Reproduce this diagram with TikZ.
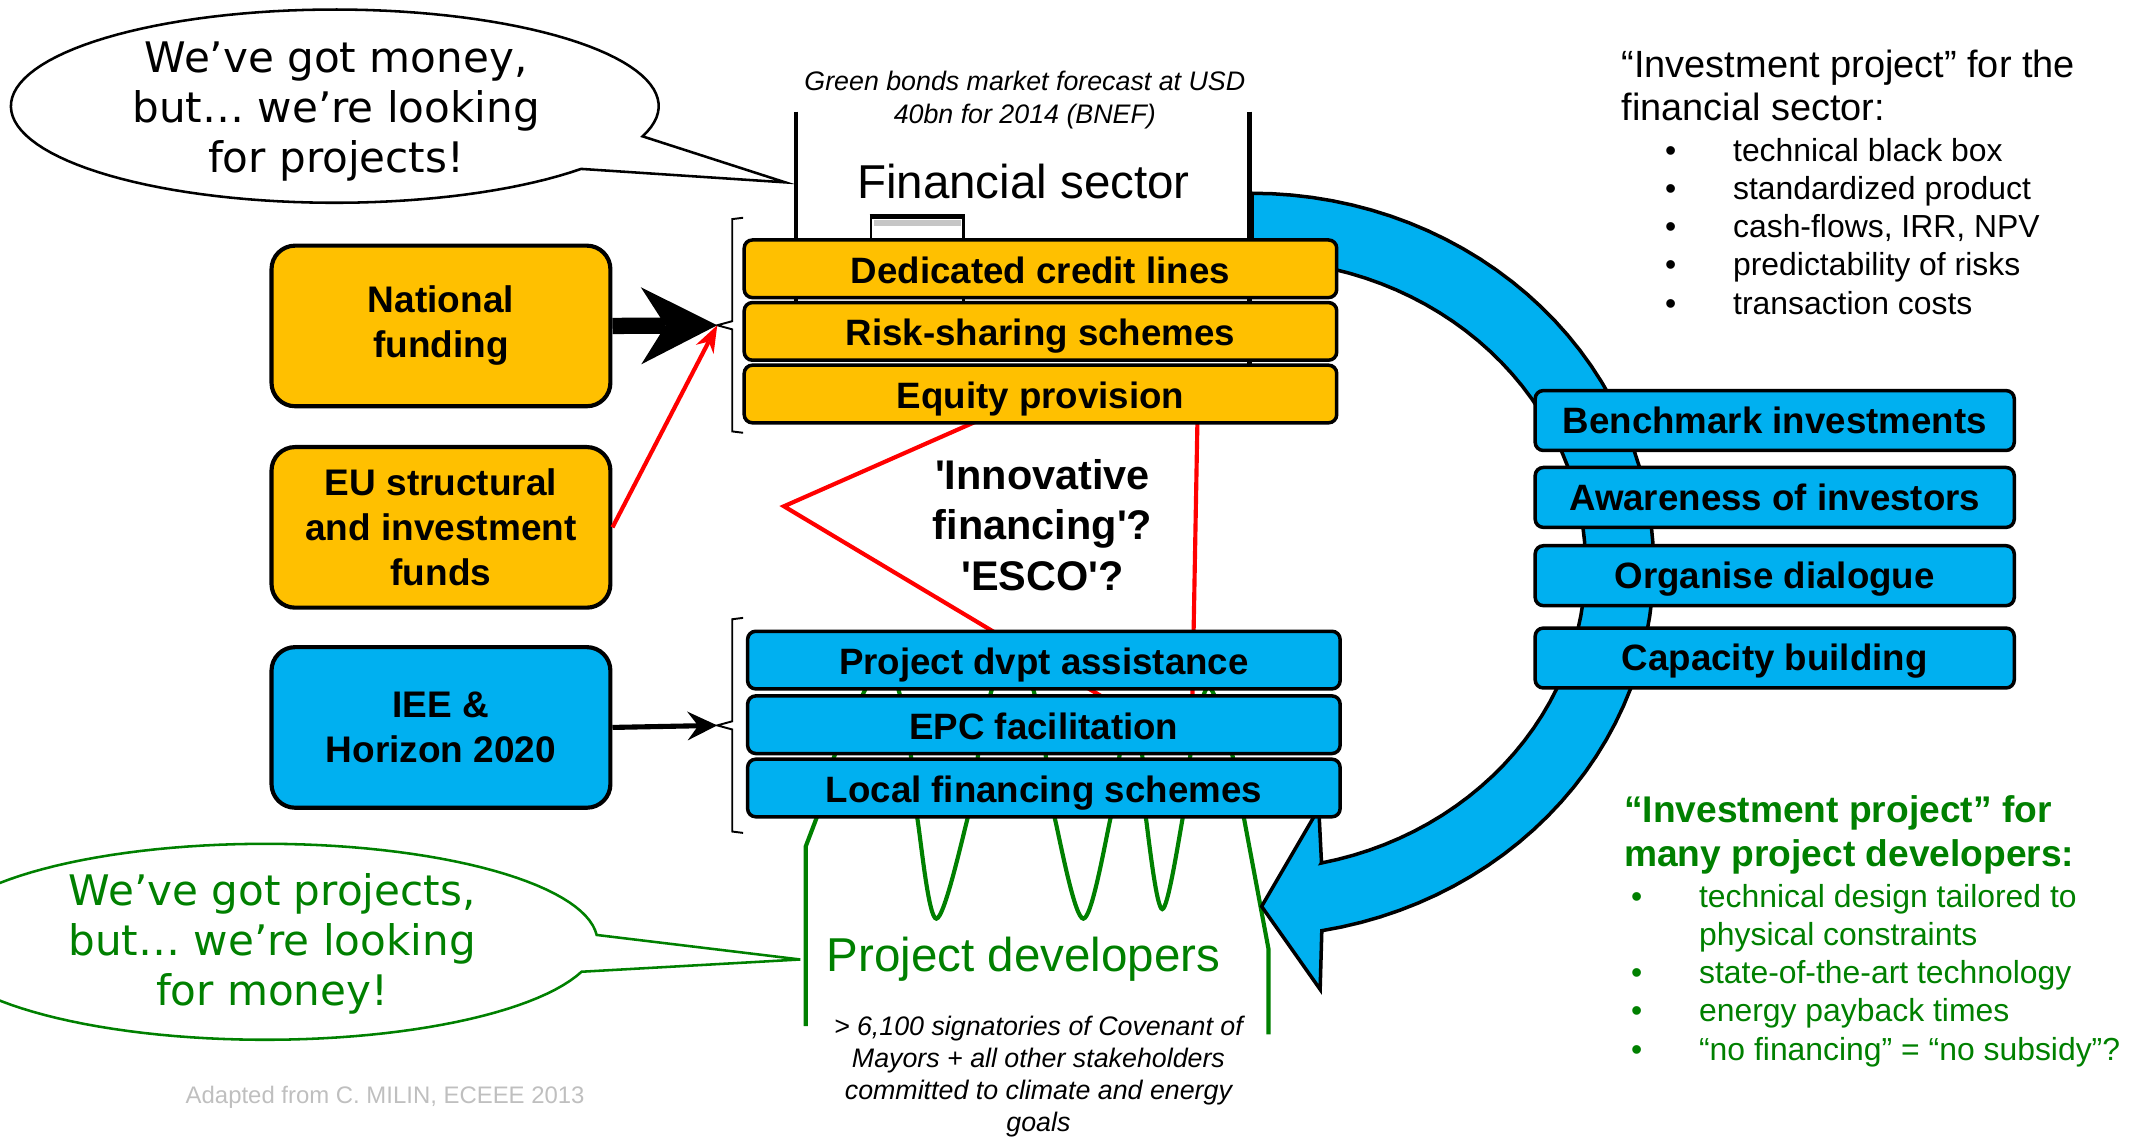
\documentclass[tikz,border=0pt]{standalone}
\usepackage{fontspec}
\setmainfont{Liberation Sans}
\newfontfamily\bubblefont{DejaVu Sans}
\usetikzlibrary{arrows.meta}
\definecolor{fundyellow}{HTML}{FFC000}
\definecolor{fundblue}{HTML}{00B0F0}
\definecolor{devgreen}{HTML}{008000}
\definecolor{notegray}{HTML}{BFBFBF}
\newcommand\listbullet{\makebox[7.5mm][l]{•}}

\begin{document}
\begin{tikzpicture}
[
    x=0.15mm, y=-0.15mm,
    fund/.style={draw, line width=1.3pt, rounded corners=2.6mm, minimum width=37.35mm, minimum height=17.7mm, inner sep=0pt, align=center, font=\bfseries\fontsize{11.6}{14.1}\selectfont},
    bar/.style={draw, line width=1.1pt, rounded corners=0.9mm, minimum width=65.3mm, minimum height=6.35mm, inner sep=0pt, text height=10.5pt, text depth=1.5pt, font=\bfseries\fontsize{11.5}{13}\selectfont},
    sidebar/.style={bar, fill=fundblue, minimum width=52.8mm, minimum height=6.6mm, text height=10pt, text depth=2pt},
    plain/.style={inner sep=0pt, align=left},
]
\useasboundingbox (0,0) rectangle (1568,835);

\draw[line width=1.4pt] (585,82) -- (585,230) (918,82) -- (918,270);
\draw[line width=0.9pt] (640,200) -- (640,159) -- (708,159) -- (708,230);
\draw[line width=1.6pt] (639,159) -- (709,159);
\fill[gray!45] (642,162) rectangle (706,166);

\draw[red, line width=1.3pt] (737,301) -- (576,372) -- (820,518);
\draw[red, line width=1.3pt] (880,300) -- (876,520);

\draw[devgreen, line width=1.3pt] (592,754) -- (592,622) -- (600,601)
    -- plot[smooth, tension=0.55] coordinates {(600,601) (614,553) (636,506) (648,478) (660,506) (669,553) (674,601) (688,675) (711,601) (719,553) (729,506) (744,478) (759,506) (768,553) (775,601) (796,675) (816,601) (823,553) (831,528) (839,553) (842,601) (854,668) (869,601) (875,553) (888,505) (905,553) (914,601)}
    -- (932,697) -- (932,760);

\filldraw[fill=fundblue, draw=black, line width=1.1pt]
    plot[domain=-90:80, samples=60] ({920+295*cos(\x)}, {415+273*sin(\x)})
    -- (970,727) -- (927,666) -- (969,594) -- (971,634)
    -- plot[domain=78:-90, samples=60] ({920+245*cos(\x)}, {415+224*sin(\x)}) -- cycle;

\filldraw[fill=white, line width=0.8pt]
    plot[domain=40.5:378.2, samples=120] ({246+238*cos(\x)}, {78+71*sin(\x)}) -- (577,134) -- cycle;
\filldraw[fill=white, draw=devgreen, line width=0.8pt]
    plot[domain=17.8:356, samples=120] ({195+244*cos(\x)}, {692+72*sin(\x)}) -- (588,705) -- cycle;

\node[fund, fill=fundyellow] (natfund) at (324,239.5) {National\\funding};
\node[fund, fill=fundyellow] (eufund) at (324,387.5) {EU structural\\and investment\\funds};
\node[fund, fill=fundblue] (ieefund) at (324,534.5) {IEE \&\\Horizon 2020};

\node[bar, fill=fundyellow] (credit) at (764.5,197.5) {Dedicated credit lines};
\node[bar, fill=fundyellow] (risk) at (764.5,243.5) {Risk-sharing schemes};
\node[bar, fill=fundyellow] (equity) at (764.5,289.5) {Equity provision};
\node[bar, fill=fundblue] (dvpt) at (767,485) {Project dvpt assistance};
\node[bar, fill=fundblue] (epc) at (767,532.5) {EPC facilitation};
\node[bar, fill=fundblue] (localfin) at (767,579) {Local financing schemes};

\node[sidebar] (bench) at (1304,309) {Benchmark investments};
\node[sidebar] (aware) at (1304,365.5) {Awareness of investors};
\node[sidebar] (dialogue) at (1304,423) {Organise dialogue};
\node[sidebar] (capacity) at (1304,483.5) {Capacity building};

\coordinate (ftip) at (527,239);
\coordinate (dtip) at (527,533);
\draw[line width=0.6pt] (546,160) -- (538,161) -- (538,236) -- (ftip) -- (538,242) -- (538,317) -- (546,318);
\draw[line width=0.6pt] (546,454) -- (538,455) -- (538,530) -- (dtip) -- (538,536) -- (538,611) -- (546,612);

\draw[line width=5.1pt, -{Stealth[length=8.4mm, width=8.5mm, inset=2.7mm, line width=0pt]}] (natfund.east) -- (ftip);
\draw[red, line width=1.3pt, -{Stealth[length=3mm, width=2.2mm, line width=0pt]}] (eufund.east) -- (ftip);
\draw[line width=1.6pt, -{Stealth[length=3.3mm, width=3.2mm, inset=1.2mm, line width=0pt]}] (ieefund.east) -- (dtip);

\node[plain, align=center, anchor=north, font=\bubblefont\fontsize{13.2}{15.8}\selectfont] (moneytalk) at (247,30) {We’ve got money,\\but… we’re looking\\for projects!};
\node[plain, align=center, anchor=north, text=devgreen, font=\bubblefont\fontsize{13.2}{15.8}\selectfont] (projecttalk) at (200,641) {We’ve got projects,\\but… we’re looking\\for money!};

\node[plain, anchor=base, font=\fontsize{14.9}{18}\selectfont] (finsector) at (752,146) {Financial sector};
\node[plain, align=center, anchor=north, font=\itshape\fontsize{8.4}{10.2}\selectfont] (bonds) at (753,52) {Green bonds market forecast at USD\\40bn for 2014 (BNEF)};
\node[plain, align=center, anchor=north, font=\bfseries\fontsize{13}{15.8}\selectfont] (innov) at (766,337) {\textquotesingle Innovative\\financing\textquotesingle ?\\\textquotesingle ESCO\textquotesingle ?};
\node[plain, anchor=base, text=devgreen, font=\fontsize{14.9}{18}\selectfont] (projdev) at (752,714) {Project developers};
\node[plain, align=center, anchor=north, font=\itshape\fontsize{8.4}{10}\selectfont] (signat) at (763,746) {> 6,100 signatories of Covenant of\\Mayors + all other stakeholders\\committed to climate and energy\\goals};
\node[plain, anchor=base west, text=notegray, font=\fontsize{7.5}{9}\selectfont] (adapted) at (136,811) {Adapted from C. MILIN, ECEEE 2013};

\node[plain, anchor=north west, font=\fontsize{11.9}{13.7}\selectfont] (fstitle) at (1191,36) {“Investment project” for the\\financial sector:};
\node[plain, anchor=north west, font=\fontsize{10}{12}\selectfont] (fslist) at (1223,101) {\listbullet technical black box\\\listbullet standardized product\\\listbullet cash-flows, IRR, NPV\\\listbullet predictability of risks\\\listbullet transaction costs};
\node[plain, anchor=north west, text=devgreen, font=\bfseries\fontsize{11.65}{13.7}\selectfont] (pdtitle) at (1193,584) {“Investment project” for\\many project developers:};
\node[plain, anchor=north west, text=devgreen, font=\fontsize{10}{12}\selectfont] (pdlist) at (1198,649) {\listbullet technical design tailored to\\\hspace*{7.5mm}physical constraints\\\listbullet state-of-the-art technology\\\listbullet energy payback times\\\listbullet “no financing” = “no subsidy”?};
\end{tikzpicture}
\end{document}
